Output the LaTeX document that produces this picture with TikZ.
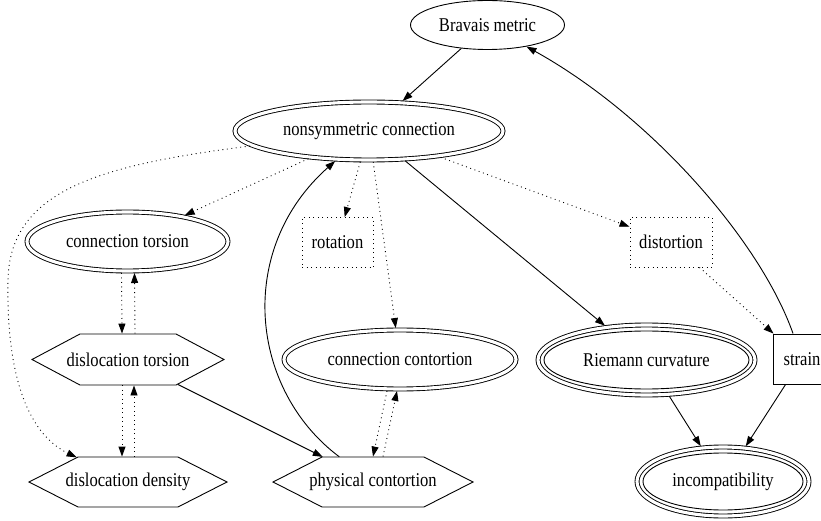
\documentclass[tikz,border=0pt]{standalone}
\usepackage{fontspec}
\setmainfont{Liberation Serif}[FakeStretch=0.85]
\usetikzlibrary{shapes.geometric,shapes.symbols,arrows.meta}
\begin{document}
\begin{tikzpicture}
 [x=1pt,y=-1pt,line width=0.9pt,>={Triangle[length=10pt,width=7pt]},
  every node/.style={inner sep=0pt,font=\fontsize{19.5}{22}\selectfont},
  oval/.style={ellipse,draw},
  ring/.style={ellipse,draw,double,double distance=3.1pt,outer sep=2pt},
  hexa/.style={signal,signal to=east and west,signal pointer angle=54,draw},
  box/.style={rectangle,draw},
  dotline/.style={dash pattern=on 0.9pt off 3.6pt},
  dotbox/.style={rectangle,draw,dotline},
  dep/.style={->,dotline},
  imp/.style={->}]
  \useasboundingbox (0,0) rectangle (821,521);
  \node (nbm)[oval,minimum width=154pt,minimum height=49pt] at (487.5,25)  {Bravais metric};
  \node (nnc)[ring,minimum width=268pt,minimum height=58pt] at (369,131)  {nonsymmetric connection};
  \node (nct)[ring,minimum width=201pt,minimum height=59pt] at (127.5,241.5)  {connection torsion};
  \node (nrot)[dotbox,minimum width=71pt,minimum height=50pt] at (337.5,242.5)  {rotation};
  \node (ndi)[dotbox,minimum width=82pt,minimum height=50pt] at (671,242)  {distortion};
  \node (ndt)[hexa,signal pointer angle=56,minimum width=192pt,minimum height=51pt] at (128,359.5)  {\makebox[0pt]{dislocation torsion}};
  \node (ncc)[ring,minimum width=232pt,minimum height=59pt] at (400,359.5)  {connection contortion};
  \node (nrc)[ring,minimum width=217pt,minimum height=70pt] at (646.5,360)  {Riemann curvature};
  \node (nrc0)[oval,minimum width=205pt,minimum height=58pt] at (646.5,360)  {};
  \node (nst)[box,minimum width=58pt,minimum height=50pt] at (802,359)  {strain};
  \node (ndd)[hexa,minimum width=198pt,minimum height=50pt] at (128,482)  {\makebox[0pt]{dislocation density}};
  \node (npc)[hexa,minimum width=200pt,minimum height=50pt] at (373,482)  {\makebox[0pt]{physical contortion}};
  \node (nin)[ring,minimum width=172pt,minimum height=69pt] at (723,481.5)  {incompatibility};
  \node (nin0)[oval,minimum width=160pt,minimum height=57pt] at (723,481.5)  {};

  \foreach \from/\to in {nbm/nnc,nnc/nrc,ndt/npc,nrc/nin,nst/nin}
    \draw[imp] (\from) -- (\to);
  \foreach \from/\to in {nnc/nct,nnc/nrot,nnc/ncc,nnc/ndi,ndi/nst}
    \draw[dep] (\from) -- (\to);
  \foreach \from/\to/\a/\b in {nct/ndt/-6/-6,ndt/ndd/-6/-6,ncc/npc/-13/0}
    \draw[dep] ([xshift=\a pt]\from.south) -- ([xshift=\b pt]\to.north);
  \foreach \from/\to/\a/\b in {ndt/nct/7/7,ndd/ndt/6/6,npc/ncc/10/-3}
    \draw[dep] ([xshift=\a pt]\from.north) -- ([xshift=\b pt]\to.south);

  \draw[dep] (nnc) .. controls (100,165) and (10,190) .. (8,280)
    .. controls (6,380) and (30,435) .. (ndd);
  \draw[imp] (npc) .. controls (250,390) and (235,250) .. (nnc);
  \draw[imp] (nst) .. controls (760,240) and (650,115) .. (nbm);
\end{tikzpicture}
\end{document}
